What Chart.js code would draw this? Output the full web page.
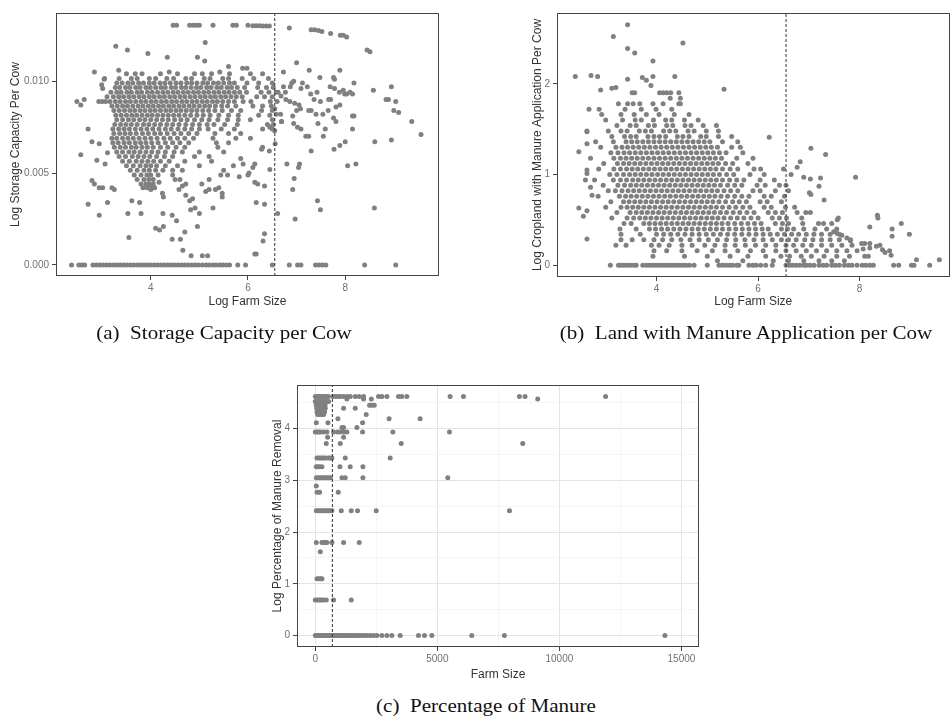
<!DOCTYPE html>
<html><head><meta charset="utf-8">
<script src="https://cdn.jsdelivr.net/npm/chart.js@4.4.0/dist/chart.umd.min.js"></script>
<style>
html,body{margin:0;padding:0;background:#fff;width:952px;height:717px;overflow:hidden;}
.panel{position:absolute;}
.cap{position:absolute;font-family:'Liberation Serif','Times New Roman',serif;font-size:18px;color:#111;white-space:nowrap;transform:translate(-50%,-50%) scaleX(1.17);}
</style></head><body>
<div class="panel" style="left:0;top:0;width:445px;height:318px"><canvas id="ca" width="445" height="318"></canvas></div>
<div class="panel" style="left:480px;top:0;width:472px;height:318px"><canvas id="cb" width="472" height="318"></canvas></div>
<div class="panel" style="left:240px;top:340px;width:465px;height:345px"><canvas id="cc" width="465" height="345"></canvas></div>
<div class="cap" style="left:224px;top:333px">(a)&nbsp; Storage Capacity per Cow</div>
<div class="cap" style="left:746px;top:333px">(b)&nbsp; Land with Manure Application per Cow</div>
<div class="cap" style="left:486px;top:706px">(c)&nbsp; Percentage of Manure</div>
<script>
// ---------- tick values and labels ----------
const logFarmTicks = [4, 6, 8];
const logFarmTickLabels = ['4', '6', '8'];
const storageTicks = [0, 0.005, 0.010];
const storageTickLabels = ['0.000', '0.005', '0.010'];
const croplandTicks = [0, 1, 2];
const croplandTickLabels = ['0', '1', '2'];
const farmSizeTicks = [0, 2500, 5000, 7500, 10000, 12500, 15000];
const farmSizeTickLabels = ['0', '', '5000', '', '10000', '', '15000'];
const removalTicks = [0, 0.5, 1, 1.5, 2, 2.5, 3, 3.5, 4, 4.5];
const removalTickLabels = ['0', '', '1', '', '2', '', '3', '', '4', ''];

// ---------- data: panel (a) Log Storage Capacity Per Cow vs Log Farm Size ----------
const storageTop = [[4.46,.01304],[4.53,.01304],[4.8,.01304],[4.87,.01304],[4.94,.01304],[5.0,.01304],[5.28,.01304],[5.69,.01304],[5.76,.01304],[6.0,.01304],[6.1,.01302],[6.17,.01302],[6.24,.01302],[6.3,.013],[6.37,.013],[6.44,.013],[6.85,.0129],[7.3,.0128],[7.37,.0128],[7.45,.01276],[7.52,.0127],[7.7,.0126],[7.9,.0125],[7.96,.0125],[8.03,.0124],[8.45,.0117],[8.51,.0116]];
const storageZeroX = [2.37,2.52,2.58,2.64,2.81,2.88,2.95,3.02,3.09,3.16,3.23,3.3,3.37,3.44,3.51,3.58,3.65,3.72,3.79,3.86,3.93,4.0,4.07,4.14,4.21,4.28,4.35,4.42,4.49,4.56,4.63,4.7,4.77,4.84,4.91,4.98,5.06,5.14,5.2,5.28,5.34,5.42,5.48,5.55,5.62,5.79,5.95,6.5,6.85,7.02,7.09,7.39,7.46,7.53,7.6,8.4,9.04];
const storageRows = [
 [.0104,[3.5,3.82,4.2,4.55,4.9,5.25,5.62,6.05]],
 [.01015,[3.05,3.35,3.6,3.72,3.97,4.1,4.33,4.47,4.72,4.84,5.1,5.22,5.48,5.6,5.88,6.12,6.42]],
 [.0099,[3.3,3.41,3.53,3.63,3.75,3.85,3.97,4.07,4.19,4.29,4.4,4.52,4.62,4.74,4.84,4.95,5.07,5.17,5.29,5.39,5.5,5.62,5.72,5.98,6.22,6.5]],
 [.00965,[3.27,3.36,3.48,3.57,3.69,3.78,3.9,3.99,4.1,4.21,4.3,4.42,4.51,4.63,4.72,4.83,4.94,5.03,5.15,5.24,5.36,5.45,5.57,5.66,5.78,5.93,6.2,6.38,6.52]],
 [.0094,[3.18,3.3,3.39,3.51,3.6,3.72,3.81,3.93,4.03,4.14,4.25,4.35,4.46,4.56,4.67,4.77,4.88,4.98,5.09,5.19,5.3,5.4,5.51,5.61,5.72,5.83,5.97,6.27,6.43,6.58]],
 [.00915,[3.1,3.23,3.34,3.44,3.55,3.65,3.76,3.86,3.97,4.07,4.18,4.28,4.39,4.49,4.6,4.7,4.81,4.91,5.02,5.12,5.23,5.33,5.44,5.54,5.65,5.76,5.88,6.18,6.34,6.5]],
 [.0089,[3.16,3.27,3.37,3.48,3.58,3.69,3.8,3.9,4.01,4.11,4.22,4.32,4.43,4.53,4.64,4.74,4.85,4.95,5.06,5.16,5.27,5.37,5.48,5.6,5.72,5.9,6.06,6.46,6.6]],
 [.00865,[3.2,3.31,3.42,3.52,3.63,3.74,3.84,3.95,4.05,4.16,4.26,4.37,4.47,4.58,4.68,4.79,4.89,5.0,5.11,5.21,5.33,5.46,5.58,5.75,6.1,6.3,6.48]],
 [.0084,[3.24,3.35,3.46,3.57,3.67,3.78,3.88,3.99,4.09,4.2,4.31,4.41,4.52,4.62,4.73,4.84,4.95,5.07,5.19,5.32,5.47,5.66,5.85,6.28,6.5]],
 [.00815,[3.28,3.39,3.5,3.61,3.71,3.82,3.93,4.03,4.14,4.25,4.36,4.47,4.58,4.7,4.82,4.95,5.08,5.22,5.4,5.6,5.8,6.22,6.45]],
 [.0079,[3.3,3.42,3.54,3.65,3.77,3.88,4.0,4.12,4.24,4.36,4.49,4.62,4.75,4.9,5.05,5.2,5.38,5.58,5.8,6.05,6.5]],
 [.00765,[3.26,3.38,3.49,3.6,3.72,3.85,3.96,4.08,4.2,4.33,4.45,4.58,4.72,4.86,5.0,5.16,5.3,5.52,5.78,6.4,6.52]],
 [.0074,[3.22,3.34,3.45,3.56,3.68,3.8,3.92,4.04,4.17,4.3,4.42,4.56,4.7,4.84,5.0,5.18,5.45,5.72,6.3]],
 [.00715,[3.24,3.36,3.47,3.58,3.7,3.83,3.95,4.08,4.2,4.34,4.48,4.62,4.78,4.95,5.32,5.6,5.85]],
 [.0069,[3.2,3.3,3.42,3.53,3.64,3.76,3.88,4.0,4.13,4.27,4.4,4.55,4.7,4.88,5.28,5.75,6.05]],
 [.00665,[3.22,3.33,3.45,3.56,3.68,3.79,3.9,4.02,4.15,4.3,4.45,4.6,4.78,5.35,5.6]],
 [.0064,[3.25,3.37,3.48,3.6,3.7,3.82,3.93,4.05,4.2,4.35,4.52,4.7,5.38,6.3]],
 [.00615,[3.3,3.42,3.55,3.66,3.78,3.9,4.02,4.15,4.3,4.48,4.65,5.0,5.5]],
 [.0059,[3.35,3.48,3.62,3.74,3.86,3.98,4.12,4.28,4.45,4.9,5.2]],
 [.00565,[3.42,3.56,3.7,3.82,3.94,4.06,4.2,4.38,4.7,5.25]],
 [.0054,[3.5,3.64,3.78,3.9,4.0,4.12,4.3,4.55,5.0,5.7]],
 [.00515,[3.58,3.72,3.86,3.97,4.1,4.25,4.45,4.65,5.5]],
 [.0049,[3.66,3.8,3.92,4.0,4.15,4.45,5.44,5.58]],
 [.00465,[3.72,3.86,3.96,4.05,4.5,4.6,5.2]],
 [.0044,[3.8,3.9,3.97,4.05,5.05]],
 [.0042,[3.84,3.93,4.0,4.08]]
];
const storageSparse = [[5.12,.0121],[3.28,.0119],[3.52,.0117],[3.94,.0115],[4.34,.0113],[4.96,.0113],[5.11,.0111],[5.6,.0108],[5.89,.0107],[2.84,.0105],[3.34,.0106],[3.68,.0104],[4.38,.0105],[5.06,.0104],[5.42,.0105],[6.3,.0104],
 [3.04,.0101],[2.99,.0098],[3.01,.0096],[2.48,.0089],[2.56,.0087],[2.63,.009],[2.93,.0089],[3.0,.0089],[3.07,.0089],[2.71,.0074],[2.79,.0067],[2.94,.0066],[2.56,.006],[2.89,.0057],[3.06,.0055],[3.11,.0061],[2.79,.0046],[2.84,.0044],[2.94,.0042],[3.01,.0042],[2.71,.0033],[2.94,.0027],[3.11,.0034],[3.2,.0042],[3.25,.0041],
 [3.53,.0028],[3.55,.0015],[3.61,.0035],[3.77,.0034],[3.8,.0028],[4.0,.0041],[4.17,.0045],[4.24,.0039],[4.25,.0028],[4.26,.0037],[4.1,.002],[4.18,.0019],[4.26,.0021],[4.44,.0027],[4.53,.0024],[4.44,.0014],[4.61,.0014],[4.66,.0008],[4.7,.0018],[4.83,.0005],[5.06,.0005],[5.17,.0005],[4.96,.0021],[4.82,.003],[4.91,.0031],[5.0,.0028],[4.72,.0038],[4.8,.0035],[4.86,.0036],[4.58,.0041],[4.65,.0043],[4.72,.0044],[5.28,.0031],[5.47,.0037],[5.47,.0039],[5.33,.0041],[5.4,.0042],[5.13,.004],[5.2,.0041],[5.82,.0048],[5.85,.0058],[6.0,.0049],[6.1,.0053],
 [5.98,.0107],[7.0,.011],[6.73,.0105],[7.26,.0106],[7.48,.0102],[7.76,.0102],[7.89,.0106],[8.18,.0099],[8.58,.0095],[8.95,.0097],[9.04,.0089],[9.0,.0084],[9.1,.0083],[8.84,.009],[8.89,.009],[9.37,.0078],[9.56,.0071],[8.95,.0068],[8.61,.0067],[8.15,.0081],[8.18,.0081],[8.15,.0074],[8.0,.0067],[7.89,.0065],[7.77,.0063],[8.22,.0055],[8.05,.0054],[8.6,.0031],[6.61,.0028],[6.97,.0025],[7.43,.0035],[7.49,.003],[6.92,.0041],[6.95,.0047],[7.06,.0055],[7.04,.0053],[6.8,.0055],[7.3,.0062],[7.19,.007],[7.25,.007],[7.55,.007],[7.44,.0077],[7.59,.0074],[7.81,.0078],[7.76,.008],[7.09,.0074],[7.02,.0075],[6.92,.0081],[6.94,.0077],[6.69,.0078],[7.25,.0084],[7.3,.0084],[7.4,.0082],[7.54,.0082],[7.65,.0084],[7.81,.0086],[7.89,.0087],[7.36,.009],[7.49,.0089],[7.66,.009],[7.7,.009],[8.03,.0093],[8.1,.0094],[8.15,.0093],[7.88,.0094],[7.96,.0095],[7.99,.0093],[7.69,.0097],[7.78,.0096],[7.78,.0101],[7.09,.0096],[7.12,.0099],[7.22,.0097],[7.42,.0094],[7.29,.0093],[6.9,.0099],[6.94,.01],[6.87,.0097],[6.73,.0097],[6.77,.0094],[6.62,.0094],[6.68,.0092],[6.78,.009],[6.86,.0089],[6.96,.0088],[7.05,.0087],[7.08,.0085],[7.0,.0084],[6.55,.0085],[6.58,.0082],[6.67,.0082],[6.69,.0078],[6.5,.0074],[6.55,.0073],[6.45,.0075],[6.56,.0066],[6.44,.0062],[6.28,.0063],[6.14,.0055],[5.9,.0055],[6.02,.005],[6.14,.0045],[6.2,.0044],[6.34,.0043],[6.17,.0034],[6.34,.0033],[6.34,.0017],[6.31,.0013],[6.14,.0006],[6.17,.0006],[6.45,.0052]];

// ---------- data: panel (b) Log Cropland with Manure Application Per Cow ----------
const croplandZeroX = [3.09,3.25,3.3,3.36,3.42,3.48,3.55,3.6,3.73,3.8,3.86,3.92,3.98,4.04,4.1,4.16,4.22,4.28,4.34,4.4,4.46,4.52,4.58,4.65,4.74,5.0,5.23,5.3,5.37,5.44,5.5,5.58,5.62,5.82,5.9,5.96,6.05,6.15,6.28,6.55,6.62,6.68,6.75,6.82,6.9,6.95,7.02,7.1,7.2,7.28,7.35,7.45,7.52,7.6,7.7,7.78,7.85,7.95,8.05,8.12,8.2,8.27,8.67,8.77,9.02,9.07,9.38];
const croplandRows = [
 [1.9,[3.52,4.06,4.13,4.2,4.28,4.44]],
 [1.84,[4.27,4.47]],
 [1.78,[3.25,3.43,3.54,3.67,3.93,4.13,4.44,4.47]],
 [1.72,[2.67,2.87,3.38,3.7,3.99,4.3]],
 [1.66,[2.92,3.3,3.56,3.8,4.05,4.35,4.64]],
 [1.6,[3.0,3.33,3.58,3.7,3.94,4.18,4.3,4.55,4.82]],
 [1.54,[3.22,3.48,3.6,3.84,3.96,4.2,4.32,4.56,4.68,4.92,5.18]],
 [1.48,[2.63,3.05,3.3,3.42,3.66,3.78,3.9,4.14,4.26,4.38,4.62,4.74,4.98,5.22]],
 [1.42,[3.12,3.37,3.49,3.6,3.83,3.95,4.06,4.18,4.41,4.52,4.64,4.87,4.98,5.22,5.48]],
 [1.36,[2.8,3.15,3.4,3.51,3.62,3.73,3.84,3.95,4.06,4.17,4.28,4.39,4.5,4.61,4.72,4.83,4.94,5.05,5.3,5.6]],
 [1.3,[2.9,3.2,3.32,3.43,3.54,3.65,3.76,3.87,3.98,4.09,4.2,4.31,4.42,4.53,4.64,4.75,4.86,4.97,5.08,5.2,5.48,5.65]],
 [1.24,[3.1,3.24,3.36,3.47,3.58,3.69,3.8,3.91,4.02,4.13,4.24,4.35,4.46,4.57,4.68,4.79,4.9,5.01,5.12,5.24,5.37,5.7]],
 [1.18,[2.7,3.16,3.29,3.4,3.51,3.62,3.73,3.84,3.95,4.06,4.17,4.28,4.39,4.5,4.61,4.72,4.83,4.94,5.05,5.16,5.28,5.58,5.9]],
 [1.12,[2.96,3.23,3.35,3.46,3.57,3.68,3.79,3.9,4.01,4.12,4.23,4.34,4.45,4.56,4.67,4.78,4.89,5.0,5.11,5.22,5.36,5.5,5.8]],
 [1.06,[2.86,3.16,3.29,3.41,3.52,3.63,3.74,3.85,3.96,4.07,4.18,4.29,4.4,4.51,4.62,4.73,4.84,4.95,5.06,5.17,5.3,5.45,5.6,5.92,6.05,6.5]],
 [1.0,[3.08,3.22,3.35,3.47,3.58,3.69,3.8,3.91,4.02,4.13,4.24,4.35,4.46,4.57,4.68,4.79,4.9,5.01,5.12,5.24,5.38,5.52,5.84,6.12,6.65]],
 [0.94,[2.78,3.15,3.29,3.41,3.53,3.64,3.75,3.86,3.97,4.08,4.19,4.3,4.41,4.52,4.63,4.74,4.85,4.96,5.07,5.18,5.3,5.44,5.58,5.72,6.04,6.32]],
 [0.88,[2.95,3.24,3.37,3.49,3.6,3.71,3.82,3.93,4.04,4.15,4.26,4.37,4.48,4.59,4.7,4.81,4.92,5.03,5.14,5.26,5.4,5.54,5.68,5.98,6.14,6.42,6.55]],
 [0.82,[3.05,3.19,3.32,3.44,3.55,3.66,3.77,3.88,3.99,4.1,4.21,4.32,4.43,4.54,4.65,4.76,4.87,4.98,5.09,5.2,5.33,5.46,5.6,5.9,6.04,6.34,6.6]],
 [0.76,[2.85,3.27,3.39,3.5,3.61,3.72,3.83,3.94,4.05,4.16,4.27,4.38,4.49,4.6,4.71,4.82,4.93,5.04,5.15,5.27,5.4,5.54,5.68,5.82,6.12,6.26,6.52]],
 [0.7,[3.1,3.35,3.46,3.57,3.68,3.79,3.9,4.01,4.12,4.23,4.34,4.45,4.56,4.67,4.78,4.89,5.0,5.11,5.23,5.36,5.5,5.63,5.77,6.04,6.18,6.46]],
 [0.64,[3.0,3.3,3.42,3.53,3.64,3.75,3.86,3.97,4.08,4.19,4.3,4.41,4.52,4.63,4.74,4.85,4.96,5.07,5.18,5.3,5.43,5.56,5.7,5.84,6.12,6.26,6.54,6.72]],
 [0.58,[3.22,3.48,3.6,3.71,3.82,3.93,4.04,4.15,4.26,4.37,4.48,4.59,4.7,4.81,4.92,5.03,5.14,5.26,5.38,5.51,5.64,5.78,5.92,6.2,6.34,6.48,6.77,6.94,7.03]],
 [0.52,[3.12,3.42,3.55,3.67,3.78,3.89,4.0,4.11,4.22,4.33,4.44,4.55,4.66,4.77,4.88,4.99,5.1,5.21,5.33,5.46,5.59,5.72,5.86,6.0,6.28,6.42,6.56,6.86,7.58,8.36]],
 [0.46,[3.36,3.5,3.75,3.86,3.97,4.08,4.19,4.3,4.41,4.52,4.63,4.74,4.85,4.96,5.07,5.18,5.29,5.41,5.54,5.67,5.8,5.93,6.06,6.34,6.48,6.6,6.88,7.19,7.29,7.45]],
 [0.4,[3.28,3.6,3.86,3.98,4.1,4.22,4.34,4.46,4.58,4.7,4.82,4.94,5.06,5.18,5.3,5.43,5.56,5.69,5.82,5.95,6.08,6.2,6.46,6.58,6.7,6.9,7.12,7.35,7.55]],
 [0.34,[3.3,3.68,4.0,4.14,4.28,4.42,4.56,4.7,4.84,4.98,5.12,5.26,5.4,5.54,5.68,5.82,5.96,6.1,6.24,6.38,6.52,6.66,6.8,6.95,7.1,7.25,7.42,7.6]],
 [0.28,[3.3,3.52,3.75,3.95,4.12,4.3,4.48,4.66,4.84,5.02,5.2,5.38,5.56,5.74,5.92,6.1,6.28,6.46,6.6,6.75,6.92,7.08,7.25,7.42,7.6,7.82]],
 [0.22,[3.2,3.4,3.9,4.05,4.25,4.5,4.7,4.95,5.15,5.35,5.55,5.75,5.95,6.15,6.35,6.55,6.7,6.88,7.05,7.25,7.45,7.65,7.85]],
 [0.16,[3.95,4.2,4.5,4.8,5.1,5.35,5.6,5.85,6.1,6.35,6.55,6.75,6.95,7.15,7.35,7.55,7.75,7.95]],
 [0.1,[3.93,4.55,5.0,5.45,5.8,6.15,6.45,6.62,6.85,7.05,7.3,7.55,7.8]],
 [0.05,[5.2,5.7,6.3,6.6,6.9,7.2,7.45,7.7]]
];
const croplandSparse = [[3.43,2.65],[3.15,2.52],[4.52,2.45],[3.43,2.39],[3.57,2.34],[3.93,2.25],[2.4,2.08],[2.71,2.09],[2.84,2.08],[3.72,2.07],[3.8,2.04],[3.89,1.98],[3.93,2.08],[3.43,2.05],[4.36,2.08],[5.33,1.94],[2.9,1.93],[3.12,1.95],[3.2,1.96],[3.57,1.9],[2.63,1.47],[2.63,1.34],[2.47,1.25],[2.63,1.05],[2.63,1.01],[2.6,0.94],[2.47,0.63],[2.56,0.54],[2.63,0.6],[2.63,0.29],[2.73,0.77],[2.7,0.86],[6.22,1.41],[7.04,1.29],[7.33,1.22],[7.92,0.97],[6.83,1.14],[6.77,1.08],[6.9,0.97],[7.03,0.95],[7.23,0.96],[7.01,0.8],[7.04,0.78],[7.2,0.87],[7.3,0.72],[7.56,0.5],[8.35,0.55],[8.82,0.46],[8.64,0.4],[8.64,0.32],[8.98,0.34],[8.2,0.42],[8.33,0.21],[8.2,0.19],[8.07,0.18],[8.59,0.16],[8.62,0.11],[9.12,0.06],[9.57,0.06],[7.49,0.37],[7.56,0.35],[7.65,0.33],[7.75,0.3],[7.82,0.27],[8.04,0.24],[8.1,0.24],[8.2,0.24],[8.4,0.22],[8.45,0.17],[8.5,0.14],[8.1,0.1],[8.17,0.1]];

// ---------- data: panel (c) Log Percentage of Manure Removal vs Farm Size ----------
const manureRows = [
 [4.62,[0,60,120,190,260,330,400,470,540,724,818,914,1023,1160,1296,1432,1637,1800,1978,2592,2728,2933,3410,3546,3751,5524,6070,8363,8594,11893]],
 [4.57,[1296,1978,2296,9112]],
 [4.52,[0,70,140,210,280,350,420,480,545]],
 [4.45,[40,110,180,250,320,400,2224,2320,2415]],
 [4.39,[60,130,200,270,340,410,1160,1637]],
 [4.32,[70,150,230,300,380]],
 [4.27,[100,180,260,340,2087]],
 [4.19,[927,3024,4296]],
 [4.11,[41,518,1937]],
 [4.02,[1092,1160,1705]],
 [3.93,[0,70,140,205,341,477,750,914,1023,1160,1296,1937,3178,5497]],
 [3.83,[504,1160]],
 [3.71,[450,1023,3520,8499]],
 [3.43,[68,140,210,280,350,430,540,614,682,1228,3069]],
 [3.26,[41,110,180,273,1009,1432,1951]],
 [3.05,[41,110,180,250,320,400,470,540,614,1092,1228,1951,5429]],
 [2.89,[41]],
 [2.77,[68,177,941]],
 [2.41,[41,110,180,250,320,400,470,540,614,682,1064,1473,1732,2497,7956]],
 [1.8,[41,273,340,410,477,682,1160,1800]],
 [1.62,[205]],
 [1.1,[68,140,210,273]],
 [0.69,[0,70,140,210,280,350,450,750,1473]],
 [0,[0,60,120,180,240,300,360,420,480,540,600,660,720,780,850,920,990,1060,1130,1200,1280,1360,1440,1520,1600,1700,1800,1900,2000,2120,2250,2380,2524,2728,2933,3137,3478,4228,4474,4774,6411,7748,14322]]
];

// threshold of 700 cows (dashed line)
const THRESHOLD = 700;
const LOG_THRESHOLD = 6.551;

// ---------- rendering ----------
const POINT_COLOR = '#808080';
const TICK_COLOR = '#707070';
const TITLE_COLOR = '#333333';
const FONT = "'Liberation Sans', Arial, sans-serif";

const fromRows = rows => rows.flatMap(([y, xs]) => xs.map(x => ({x, y})));
const fromPairs = ps => ps.map(([x, y]) => ({x, y}));

const framePlugin = {
  id: 'frame',
  afterDatasetsDraw(chart) {
    const a = chart.chartArea, c = chart.ctx;
    c.save();
    c.strokeStyle = '#444';
    c.lineWidth = 1;
    c.strokeRect(Math.round(a.left) + 0.5, Math.round(a.top) + 0.5, Math.round(a.right - a.left) - 1, Math.round(a.bottom - a.top) - 1);
    c.restore();
  }
};

function axis(o, isX, hasGrid) {
  const tickFont = {family: FONT, size: 10};
  const titleFont = {family: FONT, size: 12};
  const isMajor = i => o.labels[i] !== '';
  const grid = hasGrid ? {
      display: true, drawOnChartArea: true, drawTicks: true, tickLength: 4,
      color: c => isMajor(c.index) ? '#e4e4e4' : '#f1f1f1',
      lineWidth: c => isMajor(c.index) ? 1 : 0.7,
      tickColor: c => isMajor(c.index) ? '#444' : 'rgba(0,0,0,0)'
    } : {display: true, drawOnChartArea: false, drawTicks: true, tickLength: 4, tickColor: '#444'};
  return {
    type: 'linear', min: o.min, max: o.max,
    afterBuildTicks: s => { s.ticks = o.ticks.map(v => ({value: v})); },
    ticks: {autoSkip: false, maxRotation: 0, padding: isX ? 2 : 3, color: TICK_COLOR, font: tickFont, callback: (v, i) => o.labels[i]},
    grid, border: {display: false},
    title: {display: true, text: o.title, color: TITLE_COLOR, font: titleFont,
      padding: isX ? {top: 0, bottom: o.titlePad} : {top: o.titlePad, bottom: 0}},
    afterFit: s => { if (isX) s.height = o.size; else s.width = o.size; }
  };
}

function makeChart(id, o) {
  return new Chart(document.getElementById(id), {
    type: 'scatter',
    data: {datasets: [
      {type: 'line', data: [{x: o.vline, y: o.y.min}, {x: o.vline, y: o.y.max}], borderColor: '#333', borderWidth: 1, borderDash: [3, 2], pointRadius: 0, showLine: true, fill: false, order: 0},
      {data: o.points, backgroundColor: POINT_COLOR, borderWidth: 0, pointRadius: 2.5, pointHoverRadius: 2.5, order: 1}
    ]},
    options: {
      responsive: false, animation: false, devicePixelRatio: 1, events: [],
      layout: {padding: {top: o.pad.top, right: o.pad.right, left: 0, bottom: 0}},
      plugins: {legend: {display: false}, tooltip: {enabled: false}},
      scales: {x: axis(o.x, true, o.grid), y: axis(o.y, false, o.grid)}
    },
    plugins: [framePlugin]
  });
}

makeChart('ca', {
  points: [...fromRows(storageRows), ...fromPairs(storageSparse), ...fromPairs(storageTop), ...storageZeroX.map(x => ({x, y: 0}))],
  vline: LOG_THRESHOLD,
  pad: {top: 13, right: 6},
  x: {min: 2.05, max: 9.93, ticks: logFarmTicks, labels: logFarmTickLabels, title: 'Log Farm Size', size: 42, titlePad: 9},
  y: {min: -0.0006, max: 0.01371, ticks: storageTicks, labels: storageTickLabels, title: 'Log Storage Capacity Per Cow', size: 56, titlePad: 8}
});

makeChart('cb', {
  points: [...fromRows(croplandRows), ...fromPairs(croplandSparse), ...croplandZeroX.map(x => ({x, y: 0}))],
  vline: LOG_THRESHOLD,
  pad: {top: 13, right: 1},
  x: {min: 2.04, max: 9.77, ticks: logFarmTicks, labels: logFarmTickLabels, title: 'Log Farm Size', size: 41, titlePad: 9},
  y: {min: -0.13, max: 2.78, ticks: croplandTicks, labels: croplandTickLabels, title: 'Log Cropland with Manure Application Per Cow', size: 77, titlePad: 50}
});

makeChart('cc', {
  points: fromRows(manureRows),
  vline: THRESHOLD,
  grid: true,
  pad: {top: 45, right: 6},
  x: {min: -749, max: 15720, ticks: farmSizeTicks, labels: farmSizeTickLabels, title: 'Farm Size', size: 38, titlePad: 3},
  y: {min: -0.22, max: 4.84, ticks: removalTicks, labels: removalTickLabels, title: 'Log Percentage of Manure Removal', size: 57, titlePad: 30}
});
</script>
</body></html>
